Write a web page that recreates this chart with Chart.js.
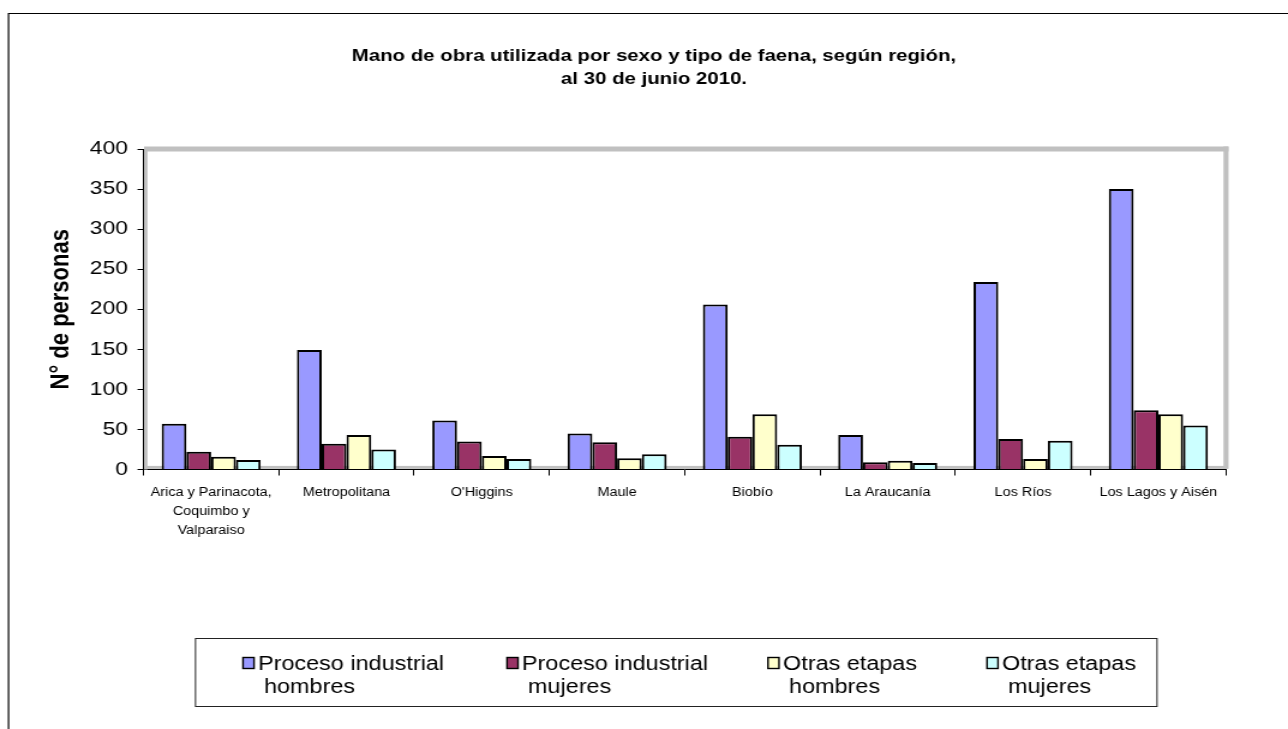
<!DOCTYPE html>
<html><head><meta charset="utf-8">
<script src="https://cdn.jsdelivr.net/npm/chart.js@4.4.1/dist/chart.umd.min.js"></script>
<style>
html,body{margin:0;padding:0;background:#fff;overflow:hidden;width:1288px;height:729px}
#wrap{width:1073px;height:729px;transform-origin:0 0;transform:scaleX(1.2003728);}
#c{display:block}
</style>
</head><body>
<div id="wrap"><canvas id="c" width="1073" height="729"></canvas></div>
<script>
// ---- data ----
const categories = [
  ['Arica y Parinacota,', 'Coquimbo y', 'Valparaiso'],
  'Metropolitana', "O'Higgins", 'Maule', 'Biobío', 'La Araucanía', 'Los Ríos', 'Los Lagos y Aisén'
];
const procesoHombres = [57, 149, 61, 45, 206, 43, 234, 350];
const procesoMujeres = [22, 32, 35, 34, 41, 9, 38, 74];
const otrasHombres   = [16, 43, 17, 14, 69, 11, 13, 69];
const otrasMujeres   = [12, 25, 13, 19, 31, 8, 36, 55];
const seriesNames = [
  ['Proceso industrial', 'hombres'],
  ['Proceso industrial', 'mujeres'],
  ['Otras etapas', 'hombres'],
  ['Otras etapas', 'mujeres']
];
const yTicks = [0, 50, 100, 150, 200, 250, 300, 350, 400];
const titleLines = ['Mano de obra utilizada por sexo y tipo de faena, según región,', 'al 30 de junio 2010.'];
const yTitle = 'N° de personas';

// ---- styling ----
const W = 1073;
const S = 1288 / W; // horizontal stretch of the picture
const FONT = '"Liberation Sans", Arial, sans-serif';
const colors = ['#9999FF', '#993366', '#FFFFCC', '#CCFFFF'];
const seriesValues = [procesoHombres, procesoMujeres, otrasHombres, otrasMujeres];

const decor = {
  id: 'decor',
  beforeDraw(chart) {
    const ctx = chart.ctx;
    ctx.save();
    ctx.fillStyle = '#fff';
    ctx.fillRect(0, 0, chart.width, chart.height);
    ctx.strokeStyle = '#000';
    ctx.lineWidth = 1.2;
    ctx.beginPath();
    ctx.moveTo(8.5 / S, chart.height);
    ctx.lineTo(8.5 / S, 13.5);
    ctx.lineTo(chart.width, 13.5);
    ctx.stroke();
    ctx.fillStyle = '#000';
    ctx.font = 'bold 17px ' + FONT;
    ctx.textAlign = 'center';
    ctx.textBaseline = 'alphabetic';
    titleLines.forEach((t, i) => ctx.fillText(t, 654 / S, 61 + i * 23));
    ctx.restore();
  },
  beforeDatasetsDraw(chart) {
    const {left: L, right: R, top: T, bottom: B} = chart.chartArea;
    const ctx = chart.ctx;
    const hx = 1 / S;
    ctx.save();
    ctx.fillStyle = '#c0c0c0';
    ctx.fillRect(L + 0.6 * hx, T - 2.5, (R + 2.5 * hx) - (L + 0.6 * hx), 5);
    ctx.fillRect(R - 2.5 * hx, T - 2.5, 5 * hx, (B - 0.6) - (T - 2.5));
    ctx.fillRect(L + 0.6 * hx, T, 3.4 * hx, B - T);
    ctx.fillRect(L + 0.6 * hx, B - 3.6, R - L, 3);
    ctx.restore();
  },
  afterDraw(chart) {
    const ctx = chart.ctx;
    ctx.save();
    ctx.strokeStyle = '#222';
    ctx.lineWidth = 1;
    ctx.strokeRect(195.5 / S, 638.5, (1157 - 195.5) / S, 68);
    const xs = [243, 507, 768, 987];
    ctx.font = '19.5px ' + FONT;
    ctx.textAlign = 'left';
    ctx.textBaseline = 'alphabetic';
    chart.data.datasets.forEach((ds, i) => {
      const x = xs[i] / S;
      ctx.fillStyle = ds.backgroundColor;
      ctx.fillRect(x, 657.5, 11 / S, 11);
      ctx.strokeStyle = '#000';
      ctx.lineWidth = 1.4;
      ctx.strokeRect(x, 657.5, 11 / S, 11);
      ctx.fillStyle = '#000';
      const lines = ds.label;
      ctx.fillText(lines[0], x + 15 / S, 670);
      ctx.fillText(lines[1], x + 21 / S, 693);
    });
    ctx.restore();
  }
};

new Chart(document.getElementById('c'), {
  type: 'bar',
  data: {
    labels: categories,
    datasets: seriesValues.map((vals, i) => ({
      label: seriesNames[i],
      data: vals,
      backgroundColor: colors[i],
      borderColor: '#000',
      borderWidth: 2,
      categoryPercentage: 0.732,
      barPercentage: 1.0
    }))
  },
  options: {
    responsive: false,
    devicePixelRatio: 1,
    animation: false,
    layout: { padding: { left: 0, right: W - 1226 / S, top: 149, bottom: 0 } },
    plugins: { legend: { display: false }, title: { display: false }, tooltip: { enabled: false } },
    scales: {
      x: {
        grid: { display: true, drawOnChartArea: false, drawTicks: true, tickLength: 6, color: '#000', offset: true },
        border: { display: true, color: '#000', width: 1 },
        ticks: {
          color: '#000', maxRotation: 0, minRotation: 0, autoSkip: false, padding: 8,
          font: { family: FONT, size: 12, lineHeight: 19 / 12 }
        },
        afterFit(scale) { scale.height = 729 - 469.5; }
      },
      y: {
        min: 0, max: 400,
        afterBuildTicks(scale) { scale.ticks = yTicks.map(v => ({ value: v })); },
        grid: { display: true, drawOnChartArea: false, drawTicks: true, tickLength: 6 / S, color: '#000' },
        border: { display: true, color: '#000', width: 1 },
        ticks: { color: '#000', padding: 8, font: { family: FONT, size: 19 } },
        title: {
          display: true, text: yTitle, color: '#000',
          font: { family: FONT, size: 22, weight: 'bold', lineHeight: 1.2 },
          padding: { top: 37.6, bottom: 0 }
        },
        afterFit(scale) { scale.width = 143.5 / S; }
      }
    }
  },
  plugins: [decor]
});
</script>
</body></html>
